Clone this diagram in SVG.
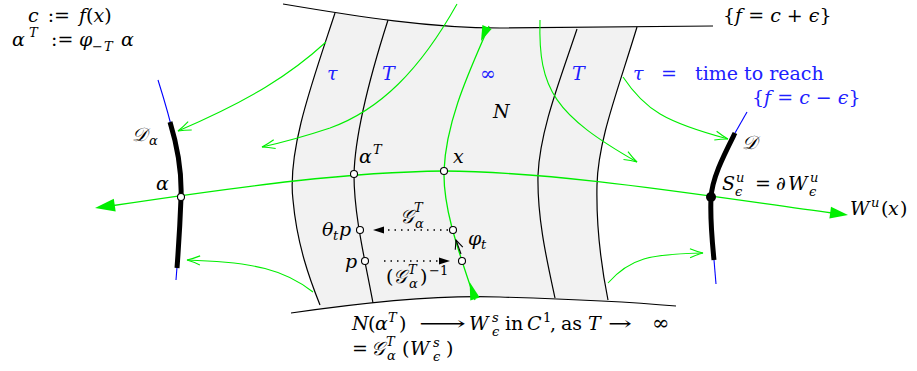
<svg xmlns="http://www.w3.org/2000/svg" width="917" height="371" viewBox="0 0 917 371">
<style>
text{font-family:"DejaVu Serif",serif;font-size:19px;fill:#000}
.i{font-style:italic}
.r{font-style:normal}
.b{fill:#2020ff}
.s{font-size:13px}
.bk{fill:none;stroke:#000;stroke-width:1.2}
.g{fill:none;stroke:#00ee00;stroke-width:1.3}
.ga{fill:none;stroke:#00ee00;stroke-width:1.1;marker-end:url(#oa)}
.bl{fill:none;stroke:#0000ff;stroke-width:1.1}
.thick{fill:none;stroke:#000;stroke-width:5}
.pt{fill:#fff;stroke:#000;stroke-width:1.1}
.gf{fill:#00ee00}
.dot{fill:none;stroke:#000;stroke-width:1.5;stroke-dasharray:1.5 5}
</style>
<defs>
<marker id="oa" markerUnits="userSpaceOnUse" markerWidth="16" markerHeight="12" viewBox="0 0 16 12" refX="14" refY="6" orient="auto">
<path d="M1,1.5 Q8,4.5 14,6 Q8,7.5 1,10.5" fill="none" stroke="#00ee00" stroke-width="1.1"/>
</marker>
<marker id="ba" markerUnits="userSpaceOnUse" markerWidth="12" markerHeight="10" viewBox="0 0 12 10" refX="10" refY="5" orient="auto">
<path d="M1,1 L10,5 L1,9" fill="none" stroke="#000" stroke-width="1.1"/>
</marker>
<clipPath id="band">
<path d="M283,4 C360,17 430,28 500,28 C570,28 640,27 713,26 L713,306 L676,306 C630,302 570,299 500,297 C450,295 380,300 291,313 Z"/>
</clipPath>
</defs>

<g id="region">
<path clip-path="url(#band)" fill="#f2f2f2" d="M338,0 L335,13 C313,80 287,150 293,200 C297,245 310,280 320,305 L322,330 L612,330 L608,300 C602,270 596,230 597,185 C598,140 618,90 637,27 L645,0 Z"/>
<path class="bk" d="M283,4 C360,17 430,28 500,28 C570,28 640,27 713,26"/>
<path class="bk" d="M291,313 C380,300 450,295 500,297 C570,299 630,302 676,306"/>
<path class="bk" d="M335,13 C313,80 287,150 293,200 C297,245 310,280 320,305"/>
<path class="bk" d="M388,20 C372,70 355,130 354,175 C354,215 365,260 373,303"/>
<path class="bk" d="M577,29 C560,80 540,130 538,175 C537,220 548,265 555,298"/>
<path class="bk" d="M637,27 C618,90 598,140 597,185 C596,230 602,270 608,300"/>
</g>

<g id="disk-left">
<path class="bl" d="M158,80 C170,118 182,160 181,198 C180,230 178,255 176,280"/>
<path class="thick" d="M170,122 C177,145 182,172 181,198 C180,225 178.5,248 177,268"/>
</g>
<g id="disk-right">
<path class="bl" d="M747,112 L735,133"/>
<path class="bl" d="M714,260 L716,284"/>
<path class="thick" d="M735,133 C724,155 712,178 711,198 C710,220 712,240 714,260"/>
</g>

<g id="connectors">
<path class="g" d="M444,171 C350,172 250,185 110,206"/>
<path class="g" d="M444,171 C560,172 700,195 832,213"/>
<polygon class="gf" points="95,208 115.7,211.5 113.8,198.7"/>
<polygon class="gf" points="848,215 829.4,218.5 831,206.7"/>
<path class="g" d="M489,26 C470,70 446,120 444,171 C443,210 460,255 475,300"/>
<polygon class="gf" points="481,41 491.6,29 482.4,25"/>
<polygon class="gf" points="469.6,282 479.7,297.4 470.3,300.6"/>
<path class="ga" d="M457,4 C420,70 380,110 330,128 C300,138 280,143 262,147"/>
<path class="ga" d="M326,42 C290,75 250,100 178,131"/>
<path class="ga" d="M623,77 C645,110 665,122 728,139"/>
<path class="ga" d="M540,20 C538,90 555,115 637,162"/>
<path class="ga" d="M313,292 C285,270 255,262 187,260"/>
<path class="ga" d="M608,283 C630,258 650,254 703,253"/>
<path class="dot" d="M448,230 L382,230"/>
<polygon points="373,230 384,226.5 384,233.5" fill="#000"/>
<path class="dot" d="M384,261 L440,261"/>
<polygon points="450,261 439,257.5 439,264.5" fill="#000"/>
<path d="M461,254 L456,240" fill="none" stroke="#000" stroke-width="1.1" marker-end="url(#ba)"/>
</g>

<g id="points">
<circle class="pt" cx="181" cy="197" r="3.5"/>
<circle class="pt" cx="354" cy="174" r="3.5"/>
<circle class="pt" cx="444" cy="171" r="3.5"/>
<circle class="pt" cx="360" cy="230" r="3.5"/>
<circle class="pt" cx="365" cy="261" r="3.5"/>
<circle class="pt" cx="453" cy="230" r="3.5"/>
<circle class="pt" cx="462" cy="261" r="3.5"/>
<circle cx="711" cy="197" r="5" fill="#000"/>
</g>

<g id="labels">
<text class="i" x="28" y="22" word-spacing="3">c <tspan class="r">:=</tspan> f<tspan class="r">(</tspan>x<tspan class="r">)</tspan></text>
<text class="i"><tspan x="12" y="46">α</tspan><tspan class="s" x="29" y="37">T</tspan><tspan class="r" x="51" y="46">:=</tspan><tspan x="79" y="46">φ</tspan><tspan class="s r" x="92" y="51">−</tspan><tspan class="s" x="104" y="51">T</tspan><tspan x="121" y="46">α</tspan></text>

<text x="723" y="22">{<tspan class="i">f</tspan> = <tspan class="i">c</tspan> + <tspan class="i">ϵ</tspan>}</text>

<text class="b i" x="327" y="80">τ</text>
<text class="b i" x="382" y="80">T</text>
<text class="b" x="480" y="80" font-size="21">∞</text>
<text class="b i" x="572" y="80">T</text>
<text class="b i" x="633" y="80">τ</text>
<text class="b" x="661" y="80">=</text>
<text class="b" x="695" y="80">time to reach</text>
<text class="b" x="752" y="104">{<tspan class="i">f</tspan> = <tspan class="i">c</tspan> − <tspan class="i">ϵ</tspan>}</text>

<text class="i" x="493" y="118">N</text>
<text class="i"><tspan x="359" y="163">α</tspan><tspan class="s" x="373" y="154">T</tspan></text>
<text class="i" x="453" y="163">x</text>

<text class="i"><tspan x="400" y="223">𝒢</tspan><tspan class="s" x="414" y="212">T</tspan><tspan class="s" x="415" y="228">α</tspan></text>
<text class="i"><tspan x="322" y="236">θ</tspan><tspan class="s" x="333" y="240">t</tspan><tspan x="339" y="236">p</tspan></text>
<text class="i"><tspan x="468" y="245">φ</tspan><tspan class="s" x="481" y="249">t</tspan></text>
<text class="i" x="345" y="268">p</text>
<text class="i"><tspan class="r" x="386" y="283">(</tspan><tspan x="393" y="283">𝒢</tspan><tspan class="s" x="408" y="274">T</tspan><tspan class="s" x="409" y="288">α</tspan><tspan class="r" x="420" y="283">)</tspan><tspan class="s r" x="429" y="275">−1</tspan></text>

<text class="i"><tspan x="132" y="141">𝒟</tspan><tspan class="s" x="149" y="145">α</tspan></text>
<text class="i" x="156" y="190">α</text>
<text class="i" x="742" y="149">𝒟</text>
<text class="i"><tspan x="722" y="190">S</tspan><tspan class="s" x="736" y="182">u</tspan><tspan class="s" x="735" y="196">ϵ</tspan><tspan class="r" x="755" y="190">=</tspan><tspan class="r" x="776" y="190">∂</tspan><tspan x="788" y="190">W</tspan><tspan class="s" x="810" y="182">u</tspan><tspan class="s" x="809" y="196">ϵ</tspan></text>
<text class="i"><tspan x="850" y="215">W</tspan><tspan class="s" x="871" y="207">u</tspan><tspan class="r" x="881" y="215">(</tspan><tspan x="888" y="215">x</tspan><tspan class="r" x="900" y="215">)</tspan></text>

<text class="i"><tspan x="352" y="330">N</tspan><tspan class="r" x="368" y="330">(</tspan><tspan x="375" y="330">α</tspan><tspan class="s" x="388" y="322">T</tspan><tspan class="r" x="399" y="330">)</tspan><tspan x="469" y="330">W</tspan><tspan class="s" x="492" y="322">s</tspan><tspan class="s" x="492" y="336">ϵ</tspan><tspan class="r" x="505" y="330">in</tspan><tspan x="527" y="330">C</tspan><tspan class="s r" x="543" y="322">1</tspan><tspan class="r" x="550" y="330">,</tspan><tspan class="r" x="561" y="330">as</tspan><tspan x="588" y="330">T</tspan><tspan class="r" x="652" y="330" font-size="21">∞</tspan></text>
<text x="419" y="330" textLength="47" lengthAdjust="spacingAndGlyphs">⟶</text>
<text x="608" y="330" textLength="24" lengthAdjust="spacingAndGlyphs">→</text>
<text class="i"><tspan class="r" x="352" y="355">=</tspan><tspan x="371" y="355">𝒢</tspan><tspan class="s" x="386" y="346">T</tspan><tspan class="s" x="387" y="360">α</tspan><tspan class="r" x="402" y="355">(</tspan><tspan x="410" y="355">W</tspan><tspan class="s" x="433" y="347">s</tspan><tspan class="s" x="433" y="361">ϵ</tspan><tspan class="r" x="446" y="355">)</tspan></text>
</g>
</svg>
